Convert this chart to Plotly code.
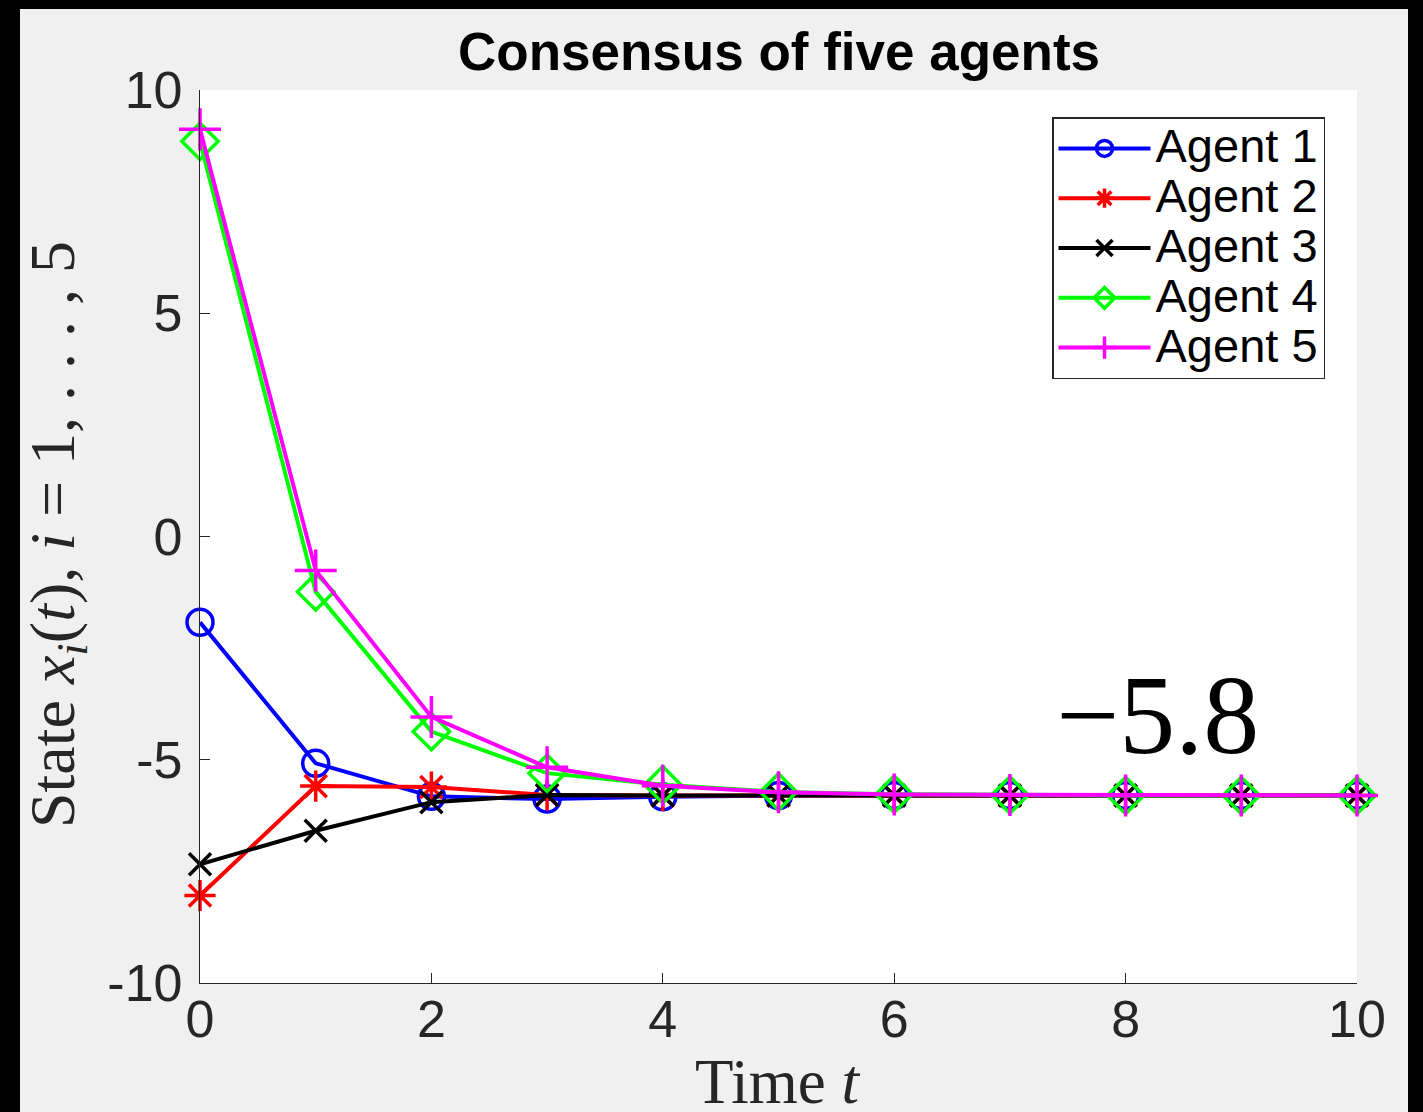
import plotly.graph_objects as go

# ---- data ----
t = [0, 1, 2, 3, 4, 5, 6, 7, 8, 9, 10]
agent1 = [-1.92, -5.08, -5.82, -5.88, -5.83, -5.80, -5.80, -5.80, -5.80, -5.80, -5.80]
agent2 = [-8.04, -5.59, -5.61, -5.79, -5.80, -5.80, -5.80, -5.80, -5.80, -5.80, -5.80]
agent3 = [-7.34, -6.59, -5.95, -5.79, -5.80, -5.80, -5.80, -5.80, -5.80, -5.80, -5.80]
agent4 = [8.85, -1.24, -4.37, -5.30, -5.56, -5.72, -5.77, -5.79, -5.80, -5.80, -5.80]
agent5 = [9.12, -0.76, -4.04, -5.17, -5.58, -5.73, -5.78, -5.79, -5.80, -5.80, -5.80]
series_names = ["Agent 1", "Agent 2", "Agent 3", "Agent 4", "Agent 5"]
x_ticks = [0, 2, 4, 6, 8, 10]
x_ticklabels = ["0", "2", "4", "6", "8", "10"]
y_ticks = [-10, -5, 0, 5, 10]
y_ticklabels = ["-10", "-5", "0", "5", "10"]
consensus_label = "\u22125.8"

# ---- styles ----
colors = ["#0000ff", "#ff0000", "#000000", "#00ff00", "#ff00ff"]
symbols = ["circle-open", "asterisk-open", "x-thin-open", "diamond-open", "cross-thin-open"]
msizes = [26, 26, 22, 28, 30]

W, H = 1423, 1112
L, R, T, B = 200, 1357, 90, 983
pw, ph = R - L, B - T

def px(x):
    return (x - L) / pw

def py(y):
    return (B - y) / ph

fig = go.Figure()
for name, ys, c, s, ms in zip(series_names, [agent1, agent2, agent3, agent4, agent5], colors, symbols, msizes):
    fig.add_trace(go.Scatter(
        x=t, y=ys, name='<span style="font-size:47px">' + name + '</span>',
        mode="lines+markers",
        line=dict(color=c, width=4),
        marker=dict(symbol=s, size=ms, color=c, line=dict(color=c, width=3.5)),
        cliponaxis=False,
    ))

sans = "Liberation Sans, Arial, Helvetica, sans-serif"
serif = "Liberation Serif, Times New Roman, serif"
axcol = "#262626"

fig.update_layout(
    width=W, height=H,
    margin=dict(l=L, r=W - R, t=T, b=H - B, pad=0),
    paper_bgcolor="#f0f0f0",
    plot_bgcolor="#ffffff",
    showlegend=True,
    legend=dict(
        x=px(1052), y=py(117), xanchor="left", yanchor="top",
        bgcolor="#ffffff", bordercolor=axcol, borderwidth=1.5,
        font=dict(family=sans, size=36, color="#000000"),
        itemwidth=92, tracegroupgap=0,
    ),
    xaxis=dict(
        range=[0, 10], tickvals=x_ticks, ticktext=x_ticklabels,
        showgrid=False, zeroline=False, showline=True, linecolor=axcol, linewidth=1.2,
        ticks="inside", ticklen=10, tickwidth=1.2, tickcolor=axcol,
        tickfont=dict(family=sans, size=52, color=axcol),
        ticklabelstandoff=-10,
    ),
    yaxis=dict(
        range=[-10, 10], tickvals=y_ticks, ticktext=y_ticklabels,
        showgrid=False, zeroline=False, showline=True, linecolor=axcol, linewidth=1.2,
        ticks="inside", ticklen=10, tickwidth=1.2, tickcolor=axcol,
        tickfont=dict(family=sans, size=52, color=axcol),
        ticklabelstandoff=6,
    ),
)

annotations = [
    dict(text="<b>Consensus of five agents</b>", x=px(779), y=py(52), xref="paper", yref="paper",
         xanchor="center", yanchor="middle", showarrow=False,
         font=dict(family=sans, size=53, color="#000000")),
    dict(text="State <i>x<sub>i</sub></i>(<i>t</i>), <i>i</i> = 1, . . . , 5", x=px(57), y=py(535),
         xref="paper", yref="paper", xanchor="center", yanchor="middle", textangle=-90,
         showarrow=False, font=dict(family=serif, size=64, color=axcol)),
    dict(text="Time <i>t</i>", x=px(778), y=py(1082), xref="paper", yref="paper",
         xanchor="center", yanchor="middle", showarrow=False,
         font=dict(family=serif, size=63, color=axcol)),
    dict(text=consensus_label, x=px(1157), y=py(715), xref="paper", yref="paper",
         xanchor="center", yanchor="middle", showarrow=False,
         font=dict(family=serif, size=112, color="#000000")),
]
fig.update_layout(annotations=annotations)

# black frame around the figure
shapes = [
    dict(type="rect", xref="paper", yref="paper", x0=px(-50), x1=px(20), y0=py(1200), y1=py(-50),
         fillcolor="#000000", line=dict(width=0), layer="above"),
    dict(type="rect", xref="paper", yref="paper", x0=px(-50), x1=px(1500), y0=py(9), y1=py(-50),
         fillcolor="#000000", line=dict(width=0), layer="above"),
    dict(type="rect", xref="paper", yref="paper", x0=px(1408), x1=px(1500), y0=py(1200), y1=py(-50),
         fillcolor="#000000", line=dict(width=0), layer="above"),
]
fig.update_layout(shapes=shapes)

fig.write_html("out.html", config={"displayModeBar": False},
               post_script="document.body.style.margin='0';document.body.style.overflow='hidden';")
